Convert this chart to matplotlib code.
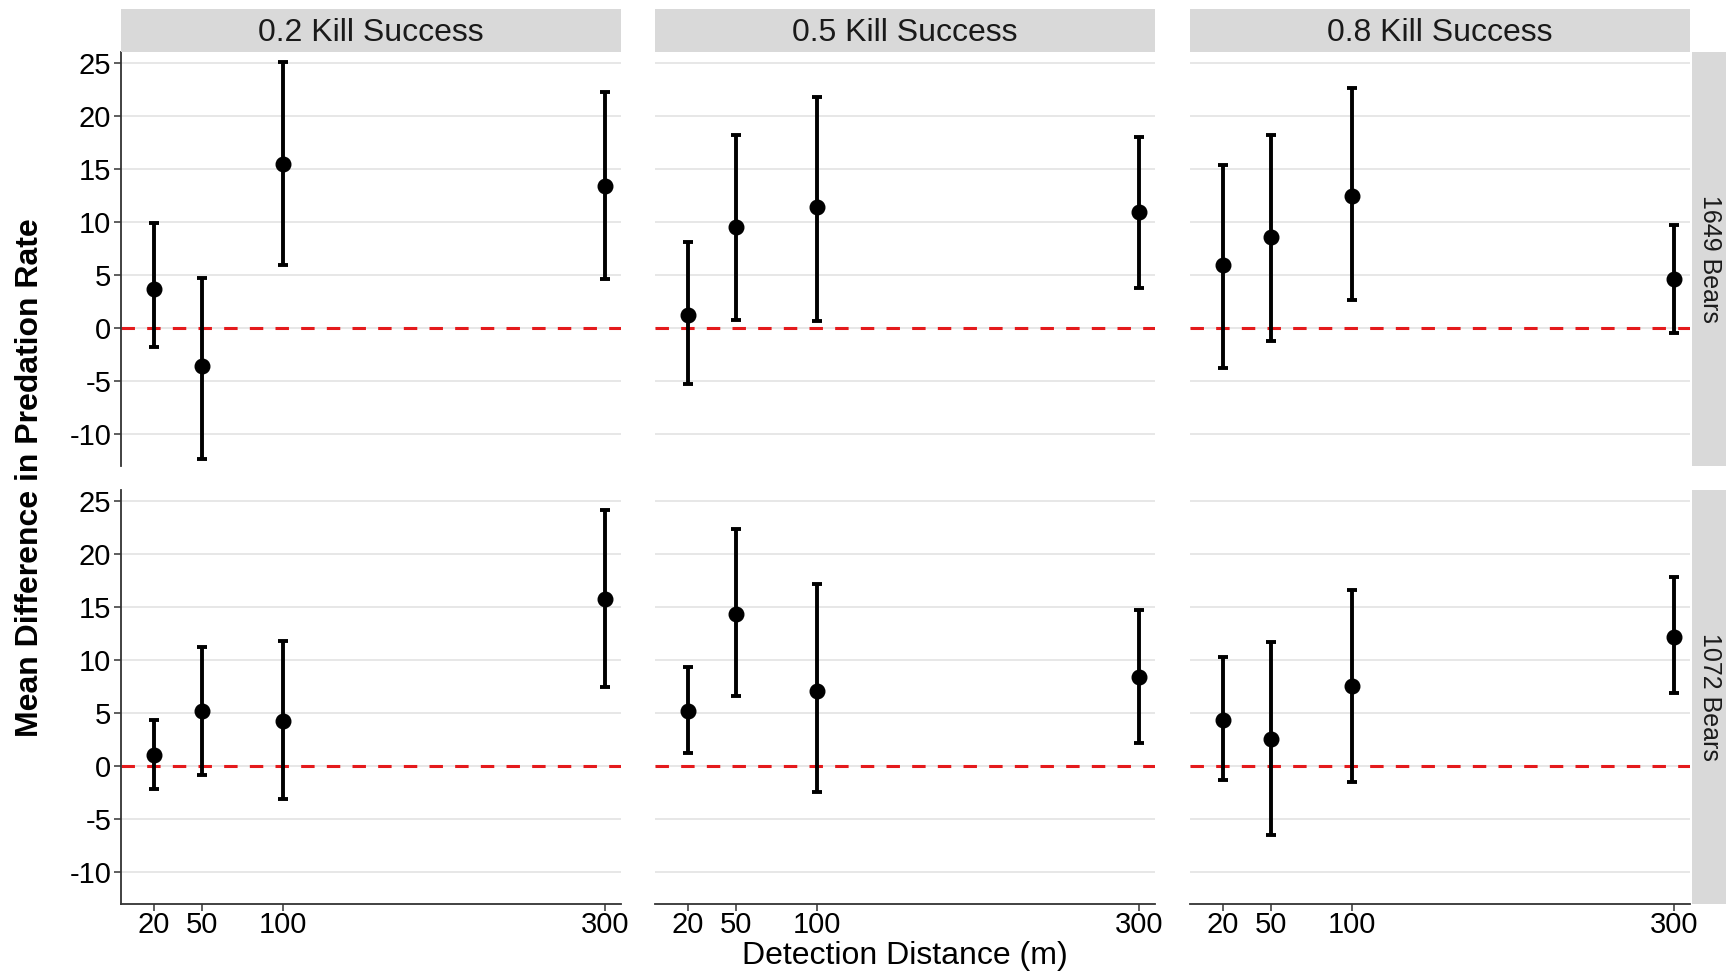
import matplotlib.pyplot as plt
from matplotlib.patches import Rectangle

plt.rcParams["font.family"] = ["Liberation Sans", "DejaVu Sans"]
plt.rcParams["axes.unicode_minus"] = False

distances = [20, 50, 100, 300]
kill_success = ["0.2", "0.5", "0.8"]
bears = ["1649", "1072"]
y_ticks = [-10, -5, 0, 5, 10, 15, 20, 25]

# one inner list per kill success level, values per detection distance
mean_1649 = [[3.65, -3.59, 15.46, 13.41], [1.26, 9.51, 11.4, 10.96], [5.95, 8.53, 12.47, 4.6]]
lower_1649 = [[-1.83, -12.37, 5.92, 4.6], [-5.32, 0.76, 0.66, 3.75], [-3.78, -1.23, 2.61, -0.44]]
upper_1649 = [[9.89, 4.75, 25.03, 22.26], [8.12, 18.2, 21.79, 18.01], [15.37, 18.14, 22.58, 9.73]]

mean_1072 = [[1.07, 5.16, 4.21, 15.75], [5.16, 14.28, 7.08, 8.4], [4.34, 2.52, 7.55, 12.17]]
lower_1072 = [[-2.14, -0.82, -3.14, 7.48], [1.19, 6.6, -2.42, 2.14], [-1.32, -6.54, -1.54, 6.89]]
upper_1072 = [[4.31, 11.19, 11.82, 24.09], [9.37, 22.3, 17.14, 14.72], [10.25, 11.64, 16.54, 17.83]]

rows = [(mean_1649, lower_1649, upper_1649), (mean_1072, lower_1072, upper_1072)]

W, H = 1726, 972
fig = plt.figure(figsize=(W / 100, H / 100), dpi=100)

col_left = [121, 655, 1190]
panel_w = 500
row_top = [52, 490]
panel_h = 414


def px_box(x0, y0, w, h):
    return [x0 / W, 1 - (y0 + h) / H, w / W, h / H]


for r, (means, lows, highs) in enumerate(rows):
    for c in range(3):
        ax = fig.add_axes(px_box(col_left[c], row_top[r], panel_w, panel_h))
        ax.set_xlim(-0.5, 310)
        ax.set_ylim(-13.0, 26.0)
        ax.set_yticks(y_ticks)
        ax.set_xticks(distances)
        ax.grid(axis="y", color="#e5e5e5", linewidth=1.3, zorder=0)
        ax.set_axisbelow(True)
        for s in ["top", "right"]:
            ax.spines[s].set_visible(False)
        ax.spines["left"].set_visible(c == 0)
        ax.spines["bottom"].set_visible(r == 1)
        for s in ["left", "bottom"]:
            ax.spines[s].set_color("#333333")
            ax.spines[s].set_linewidth(1.3)
        ax.tick_params(axis="y", left=(c == 0), labelleft=(c == 0), length=5, width=1.1,
                       color="#333333", labelsize=21, pad=2)
        ax.tick_params(axis="x", bottom=(r == 1), labelbottom=(r == 1), length=5, width=1.1,
                       color="#333333", labelsize=21, pad=0)
        ax.axhline(0, color="#e41a1c", linewidth=2.2, linestyle=(0, (4.4, 4.0)), zorder=2)

        m = means[c]
        yerr = [[m[i] - lows[c][i] for i in range(4)], [highs[c][i] - m[i] for i in range(4)]]
        ax.errorbar(distances, m, yerr=yerr, fmt="o", color="black", markersize=10.5,
                    elinewidth=2.8, capsize=3.5, capthick=2.8, zorder=3)

        if r == 0:
            x0, y0, w, h = px_box(col_left[c], 9, panel_w, 43)
            fig.patches.append(Rectangle((x0, y0), w, h, transform=fig.transFigure,
                                         facecolor="#d9d9d9", edgecolor="none"))
            fig.text(x0 + w / 2, 1 - 33 / H, f"{kill_success[c]} Kill Success",
                     ha="center", va="center", fontsize=23, color="#1a1a1a")

    x0, y0, w, h = px_box(1692, row_top[r], 40, panel_h)
    fig.patches.append(Rectangle((x0, y0), w, h, transform=fig.transFigure,
                                 facecolor="#d9d9d9", edgecolor="none"))
    fig.text(x0 + 18 / W, y0 + h / 2, f"{bears[r]} Bears", rotation=-90,
             ha="center", va="center", fontsize=18, color="#1a1a1a")

fig.text(30 / W, 1 - 478 / H, "Mean Difference in Predation Rate", rotation=90,
         ha="center", va="center", fontsize=23, fontweight="bold")
fig.text(905 / W, 1 - 956 / H, "Detection Distance (m)", ha="center", va="center", fontsize=23)

fig.savefig("out.png", dpi=100, facecolor="white")
